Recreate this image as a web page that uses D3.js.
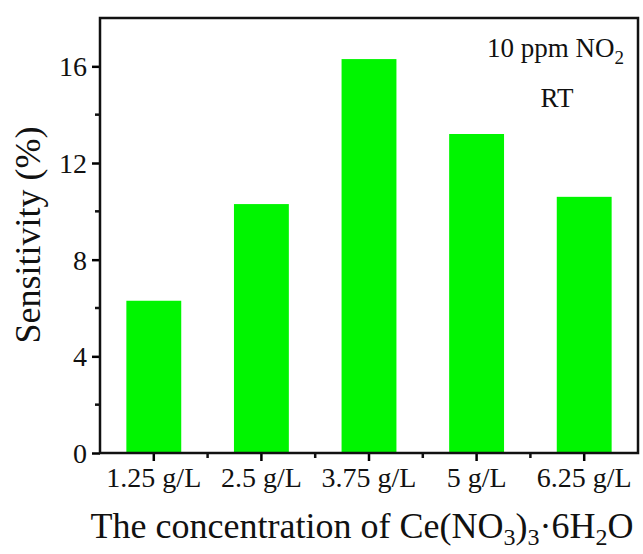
<!DOCTYPE html>
<html>
<head>
<meta charset="utf-8">
<script src="https://cdn.jsdelivr.net/npm/d3@7"></script>
<style>
  body { margin: 0; background: #fff; }
  svg { display: block; }
  text { font-family: "Liberation Serif", "Times New Roman", serif; fill: #111; }
</style>
</head>
<body>
<div id="chart"></div>
<script>
// data
const categories = ["1.25 g/L", "2.5 g/L", "3.75 g/L", "5 g/L", "6.25 g/L"];
const sensitivity = [6.3, 10.3, 16.3, 13.2, 10.6];
const yTicks = [0, 4, 8, 12, 16];
const yMinorTicks = [2, 6, 10, 14];

const width = 643;
const height = 554;
const margin = {top: 18, right: 5, bottom: 101, left: 100};
const serif = '"Liberation Serif", "Times New Roman", serif';

const svg = d3.select("#chart").append("svg")
    .attr("width", width)
    .attr("height", height);

const x = d3.scaleBand()
    .domain(categories)
    .range([margin.left, width - margin.right])
    .paddingInner(0.49)
    .paddingOuter(0.245);

const y = d3.scaleLinear()
    .domain([0, 18])
    .range([height - margin.bottom, margin.top]);

// bars
svg.append("g")
    .selectAll("rect")
    .data(sensitivity)
    .join("rect")
    .attr("x", (d, i) => x(categories[i]))
    .attr("y", d => y(d))
    .attr("width", x.bandwidth())
    .attr("height", d => y(0) - y(d))
    .attr("fill", "#00f500");

// left axis
const yAxis = svg.append("g")
    .attr("transform", `translate(${margin.left},0)`)
    .call(d3.axisLeft(y).tickValues(yTicks).tickSize(8).tickPadding(5))
    .attr("font-family", serif);
yAxis.select(".domain").remove();
yAxis.selectAll(".tick line").attr("stroke-width", 2.5);
yAxis.selectAll(".tick text").style("font-size", "28px").attr("dy", "0.34em");

svg.append("g")
    .selectAll("line")
    .data(yMinorTicks)
    .join("line")
    .attr("x1", margin.left - 5)
    .attr("x2", margin.left)
    .attr("y1", d => y(d))
    .attr("y2", d => y(d))
    .attr("stroke", "#111")
    .attr("stroke-width", 2.5);

// bottom axis
const xAxis = svg.append("g")
    .attr("transform", `translate(0,${y(0)})`)
    .call(d3.axisBottom(x).tickSize(8).tickPadding(6))
    .attr("font-family", serif);
xAxis.select(".domain").remove();
xAxis.selectAll(".tick line").attr("stroke-width", 2.5);
xAxis.selectAll(".tick text").style("font-size", "28px");

// minor ticks between the bars
const bounds = categories.slice(1).map(c => x(c) - x.step() * x.paddingInner() / 2);
svg.append("g")
    .selectAll("line")
    .data(bounds)
    .join("line")
    .attr("x1", d => d)
    .attr("x2", d => d)
    .attr("y1", y(0))
    .attr("y2", y(0) + 5)
    .attr("stroke", "#111")
    .attr("stroke-width", 2.5);

// frame
svg.append("rect")
    .attr("x", margin.left)
    .attr("y", margin.top)
    .attr("width", width - margin.left - margin.right)
    .attr("height", y(0) - margin.top)
    .attr("fill", "none")
    .attr("stroke", "#111")
    .attr("stroke-width", 2.5);

// annotations
const note = svg.append("text")
    .attr("x", 487)
    .attr("y", 57)
    .style("font-size", "27px");
note.append("tspan").text("10 ppm NO");
note.append("tspan").attr("dy", 7).style("font-size", "19px").text("2");

svg.append("text")
    .attr("x", 557)
    .attr("y", 107)
    .attr("text-anchor", "middle")
    .style("font-size", "27px")
    .text("RT");

// axis titles
svg.append("text")
    .attr("transform", `translate(40,235) rotate(-90)`)
    .attr("text-anchor", "middle")
    .style("font-size", "36px")
    .text("Sensitivity (%)");

const xt = svg.append("text")
    .attr("x", 362)
    .attr("y", 538)
    .attr("text-anchor", "middle")
    .style("font-size", "36px");
xt.append("tspan").text("The concentration of Ce(NO");
xt.append("tspan").attr("dy", 7).style("font-size", "24px").text("3");
xt.append("tspan").attr("dy", -7).text(")");
xt.append("tspan").attr("dy", 7).style("font-size", "24px").text("3");
xt.append("tspan").attr("dy", -7).text("\u00b76H");
xt.append("tspan").attr("dy", 7).style("font-size", "24px").text("2");
xt.append("tspan").attr("dy", -7).text("O");
</script>
</body>
</html>
